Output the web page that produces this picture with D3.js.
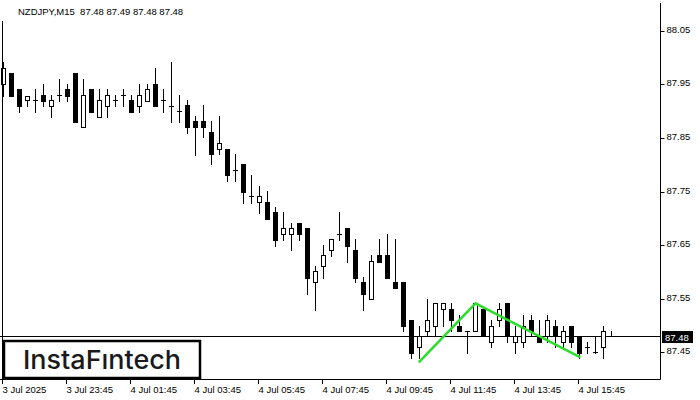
<!DOCTYPE html>
<html><head><meta charset="utf-8">
<script src="https://cdn.jsdelivr.net/npm/d3@7"></script>
<style>body{margin:0;background:#fff}svg{display:block}</style>
</head><body>
<script>
const opens = [87.950,87.971,87.942,87.921,87.921,87.930,87.910,87.930,87.942,87.971,
87.870,87.942,87.890,87.910,87.921,87.930,87.921,87.910,87.920,87.950,
87.921,87.910,87.900,87.912,87.882,87.882,87.861,87.830,87.830,87.790,
87.801,87.741,87.730,87.730,87.712,87.670,87.670,87.691,87.681,87.580,
87.610,87.640,87.670,87.681,87.640,87.580,87.550,87.631,87.631,87.580,
87.580,87.510,87.460,87.490,87.499,87.530,87.530,87.499,87.490,87.490,
87.530,87.469,87.510,87.541,87.469,87.469,87.510,87.480,87.480,87.499,
87.469,87.499,87.480,87.460,87.450,87.460,87.480];
const highs = [87.992,87.971,87.942,87.929,87.942,87.951,87.930,87.960,87.951,87.971,
87.960,87.942,87.942,87.942,87.930,87.942,87.930,87.950,87.950,87.981,
87.942,87.992,87.930,87.921,87.891,87.912,87.882,87.891,87.830,87.820,
87.801,87.781,87.760,87.751,87.721,87.712,87.691,87.691,87.681,87.611,
87.650,87.661,87.712,87.681,87.661,87.590,87.631,87.661,87.671,87.661,
87.580,87.510,87.499,87.550,87.541,87.541,87.541,87.520,87.490,87.541,
87.530,87.510,87.541,87.541,87.499,87.520,87.520,87.510,87.520,87.510,
87.499,87.499,87.480,87.469,87.480,87.499,87.490];
const lows = [87.929,87.929,87.899,87.910,87.899,87.910,87.890,87.920,87.920,87.880,
87.870,87.899,87.890,87.890,87.910,87.910,87.899,87.899,87.920,87.910,
87.899,87.880,87.880,87.860,87.818,87.851,87.801,87.820,87.770,87.770,
87.729,87.729,87.710,87.699,87.649,87.660,87.640,87.660,87.559,87.529,
87.589,87.630,87.660,87.619,87.580,87.529,87.550,87.619,87.589,87.570,
87.490,87.439,87.439,87.479,87.479,87.499,87.490,87.490,87.449,87.490,
87.480,87.460,87.499,87.469,87.449,87.460,87.480,87.469,87.469,87.460,
87.460,87.460,87.439,87.449,87.449,87.439,87.480];
const closes = [87.980,87.929,87.910,87.929,87.921,87.920,87.921,87.930,87.929,87.880,
87.930,87.899,87.921,87.930,87.921,87.930,87.899,87.930,87.942,87.910,
87.921,87.910,87.900,87.870,87.870,87.870,87.820,87.841,87.780,87.790,
87.750,87.741,87.741,87.699,87.660,87.681,87.681,87.670,87.589,87.601,
87.631,87.661,87.670,87.649,87.589,87.559,87.620,87.619,87.589,87.570,
87.499,87.449,87.479,87.510,87.541,87.541,87.510,87.490,87.490,87.541,
87.480,87.499,87.530,87.480,87.480,87.499,87.490,87.469,87.510,87.480,
87.490,87.469,87.449,87.460,87.450,87.490,87.480];
const timeLabels = ["3 Jul 2025","3 Jul 23:45","4 Jul 01:45","4 Jul 03:45","4 Jul 05:45",
"4 Jul 07:45","4 Jul 09:45","4 Jul 11:45","4 Jul 13:45","4 Jul 15:45"];
const timeLabelIdx = [0,8,16,24,32,40,48,56,64,72];
const priceTicks = [87.45,87.55,87.65,87.75,87.85,87.95,88.05];
const lastPrice = 87.48;
const titleText = "NZDJPY,M15  87.48 87.49 87.48 87.48";
const patternIdx = [52,59,72];
const patternPrice = [87.432,87.541,87.441];
const logoText = "InstaF\u0131ntech";

const W = 700, H = 400;
const plotRight = 660.5, plotBottom = 379.5;
const svg = d3.select("body").append("svg").attr("width", W).attr("height", H);

const x = d3.scaleLinear().domain([0, 76]).range([3.5, 611.5]);
const y = d3.scaleLinear().domain([87.45, 88.05]).range([352, 31]);
const py = v => Math.round(y(v));

const data = opens.map((o, i) => ({i, o, h: highs[i], l: lows[i], c: closes[i]}));

// clip for plot
svg.append("clipPath").attr("id", "plotclip").append("rect")
  .attr("x", 0).attr("y", 0).attr("width", 660).attr("height", 379);

const plot = svg.append("g").attr("clip-path", "url(#plotclip)");

// current price line
plot.append("line")
  .attr("x1", 0).attr("x2", plotRight)
  .attr("y1", py(lastPrice) + 0.5).attr("y2", py(lastPrice) + 0.5)
  .attr("stroke", "#000").attr("stroke-width", 1);

// candles
const cg = plot.append("g").selectAll("g").data(data).join("g");
cg.append("line")
  .attr("x1", d => x(d.i)).attr("x2", d => x(d.i))
  .attr("y1", d => py(d.h)).attr("y2", d => py(d.l) + 1)
  .attr("stroke", "#000").attr("stroke-width", 1);
cg.each(function(d) {
  const g = d3.select(this);
  const top = py(Math.max(d.o, d.c)), bot = py(Math.min(d.o, d.c));
  const xc = x(d.i);
  if (bot - top < 1) {
    g.append("line").attr("x1", xc - 2.5).attr("x2", xc + 2.5)
      .attr("y1", top + 0.5).attr("y2", top + 0.5)
      .attr("stroke", "#000").attr("stroke-width", 1);
  } else if (d.c < d.o) {
    g.append("rect").attr("x", xc - 2.5).attr("width", 5)
      .attr("y", top).attr("height", bot - top + 1).attr("fill", "#000");
  } else {
    g.append("rect").attr("x", xc - 2).attr("width", 4)
      .attr("y", top + 0.5).attr("height", bot - top)
      .attr("fill", "#fff").attr("stroke", "#000").attr("stroke-width", 1);
  }
});

// pattern line
plot.append("path")
  .datum(patternIdx.map((v, k) => [v, patternPrice[k]]))
  .attr("d", d3.line().x(d => x(d[0])).y(d => y(d[1])))
  .attr("fill", "none").attr("stroke", "#2bdc2b").attr("stroke-width", 2.5)
  .attr("stroke-linecap", "round").attr("stroke-linejoin", "round");

// frame
svg.append("line").attr("x1", 2.5).attr("x2", 2.5).attr("y1", 21).attr("y2", plotBottom)
  .attr("stroke", "#000");
svg.append("line").attr("x1", plotRight).attr("x2", plotRight).attr("y1", 3).attr("y2", plotBottom)
  .attr("stroke", "#000");
svg.append("line").attr("x1", 0).attr("x2", plotRight).attr("y1", plotBottom).attr("y2", plotBottom)
  .attr("stroke", "#000");

// title
svg.append("text").attr("x", 18).attr("y", 15)
  .attr("font-family", "'Liberation Sans', Arial, sans-serif").attr("font-size", 9.5)
  .attr("fill", "#000").style("white-space", "pre").text(titleText);

// y axis
const yAxis = d3.axisRight(y).tickValues(priceTicks).tickSize(4).tickPadding(2)
  .tickFormat(d3.format(".2f"));
const ya = svg.append("g").attr("transform", `translate(${plotRight},0)`).call(yAxis);
ya.select(".domain").remove();
ya.selectAll("text").attr("font-family", "'Liberation Sans', Arial, sans-serif")
  .attr("font-size", 9.5).attr("fill", "#000").attr("dy", "0.2em");
ya.selectAll(".tick").attr("transform", d => `translate(0,${py(d) + 0.5})`);

// current price tag
svg.append("rect").attr("x", 662).attr("y", py(lastPrice) - 5).attr("width", 31).attr("height", 12)
  .attr("fill", "#000");
svg.append("text").attr("x", 665).attr("y", py(lastPrice) + 4.5)
  .attr("font-family", "'Liberation Sans', Arial, sans-serif").attr("font-size", 9.5)
  .attr("fill", "#fff").text(d3.format(".2f")(lastPrice));

// x axis
const xa = svg.append("g");
const xt = xa.selectAll("g").data(timeLabelIdx).join("g")
  .attr("transform", d => `translate(${Math.floor(x(d)) - 0.5 + 0},0)`);
xt.append("line").attr("x1", 0).attr("x2", 0).attr("y1", plotBottom).attr("y2", 384)
  .attr("stroke", "#000");
xt.append("text").attr("x", 0).attr("y", 393)
  .attr("font-family", "'Liberation Sans', Arial, sans-serif").attr("font-size", 9.5)
  .attr("fill", "#000").text((d, k) => timeLabels[k]);

// logo
svg.append("rect").attr("x", 4).attr("y", 341).attr("width", 196).attr("height", 37)
  .attr("fill", "#fff").attr("stroke", "#000").attr("stroke-width", 2.5);
svg.append("text").attr("x", 23).attr("y", 368.5)
  .attr("font-family", "Inter, 'Open Sans', sans-serif").attr("font-weight", 500)
  .attr("font-size", 26).attr("fill", "#1a1a1a")
  .attr("textLength", 158).attr("lengthAdjust", "spacingAndGlyphs").text(logoText);
</script>
</body></html>
